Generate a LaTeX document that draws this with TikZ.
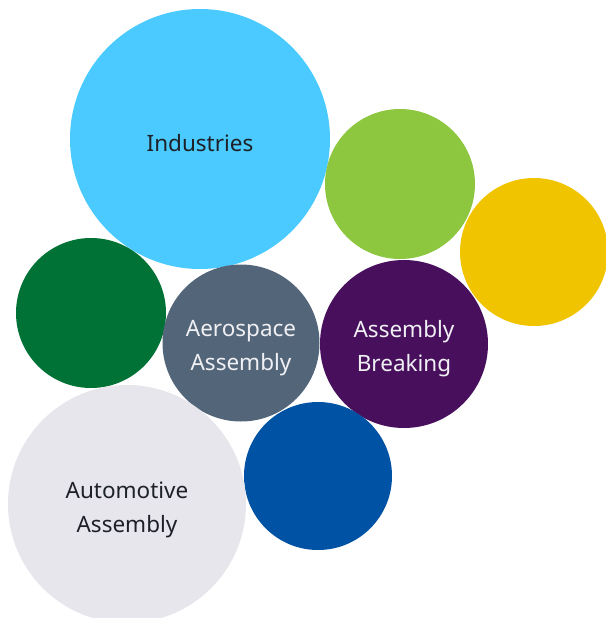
\documentclass[tikz,border=0pt]{standalone}
\usepackage{fontspec}
\setmainfont{Noto Sans}
\definecolor{skyblue}{HTML}{4ACAFE}
\definecolor{limegreen}{HTML}{8DC63F}
\definecolor{sungold}{HTML}{F1C400}
\definecolor{forest}{HTML}{007236}
\definecolor{slate}{HTML}{536679}
\definecolor{plum}{HTML}{470F5C}
\definecolor{royal}{HTML}{0053A4}
\definecolor{mist}{HTML}{E6E6EC}
\definecolor{ink}{HTML}{1E2228}
\definecolor{paper}{HTML}{F0F0F4}
\begin{document}
\begin{tikzpicture}[x=1pt,y=-1pt,
  bubble/.style={circle,inner sep=0pt,draw=none},
  caption/.style={align=center,inner sep=0pt,font=\fontsize{22.5}{34}\selectfont},
  darktext/.style={caption,text=ink},
  lighttext/.style={caption,text=paper}]
\useasboundingbox (0,0) rectangle (605,618);
% circles
\node[bubble,fill=skyblue,minimum size=260pt] (industries) at (200,139) {};
\node[bubble,fill=limegreen,minimum size=150pt] (lime) at (400,184) {};
\node[bubble,fill=sungold,minimum size=148pt] (gold) at (534,252) {};
\node[bubble,fill=forest,minimum size=150pt] (forestc) at (91,313) {};
\node[bubble,fill=slate,minimum size=157pt] (aero) at (241,343) {};
\node[bubble,fill=plum,minimum size=168pt] (breaking) at (404,344) {};
\node[bubble,fill=royal,minimum size=148pt] (royalc) at (318,476) {};
\node[bubble,fill=mist,minimum size=238pt] (auto) at (127,504) {};
% labels
\node[darktext] (industriestxt) at ([yshift=-4pt]industries.center) {Industries};
\node[lighttext] (aerotxt) at ([yshift=-5pt]aero.center) {Aerospace\\Assembly};
\node[lighttext] (breakingtxt) at ([yshift=-5pt]breaking.center) {Assembly\\Breaking};
\node[darktext] (autotxt) at ([yshift=-6pt]auto.center) {Automotive\\Assembly};
\end{tikzpicture}
\end{document}
